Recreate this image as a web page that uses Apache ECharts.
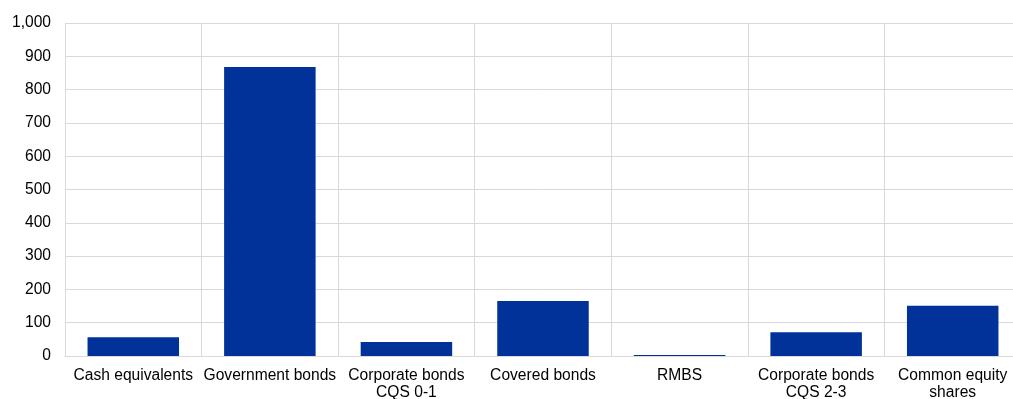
<!DOCTYPE html>
<html>
<head>
<meta charset="utf-8">
<script src="https://cdn.jsdelivr.net/npm/echarts@6/dist/echarts.min.js"></script>
<style>html,body{margin:0;padding:0;background:#fff;overflow:hidden;}#c{width:1013px;height:399px;}</style>
</head>
<body>
<div id="c"></div>
<script>
const categories = ["Cash equivalents", "Government bonds", "Corporate bonds\nCQS 0-1", "Covered bonds", "RMBS", "Corporate bonds\nCQS 2-3", "Common equity\nshares"];
const values = [56, 868, 42, 165, 3, 71, 151];
const yTicks = { min: 0, max: 1000, interval: 100 };

const chart = echarts.init(document.getElementById('c'));
chart.setOption({
  animation: false,
  grid: { left: 65, width: 956, top: 23, height: 333, containLabel: false, outerBoundsMode: 'none' },
  xAxis: {
    type: 'category',
    data: categories,
    axisLine: { show: true, lineStyle: { color: '#d9d9d9', width: 1 } },
    axisTick: { show: false },
    splitLine: { show: true, lineStyle: { color: '#d9d9d9', width: 1 } },
    axisLabel: { color: '#000', fontFamily: 'Liberation Sans, Arial, sans-serif', fontSize: 15.6, lineHeight: 17, margin: 11, interval: 0 }
  },
  yAxis: {
    type: 'value',
    min: yTicks.min, max: yTicks.max, interval: yTicks.interval,
    axisLine: { show: false },
    axisTick: { show: false },
    splitLine: { show: true, lineStyle: { color: '#d9d9d9', width: 1 } },
    axisLabel: {
      color: '#000', fontFamily: 'Liberation Sans, Arial, sans-serif', fontSize: 15.6, margin: 14,
      formatter: v => v.toLocaleString('en-US')
    }
  },
  series: [{
    type: 'bar',
    data: values,
    barWidth: '67%',
    itemStyle: { color: '#003299' }
  }]
});
</script>
</body>
</html>
